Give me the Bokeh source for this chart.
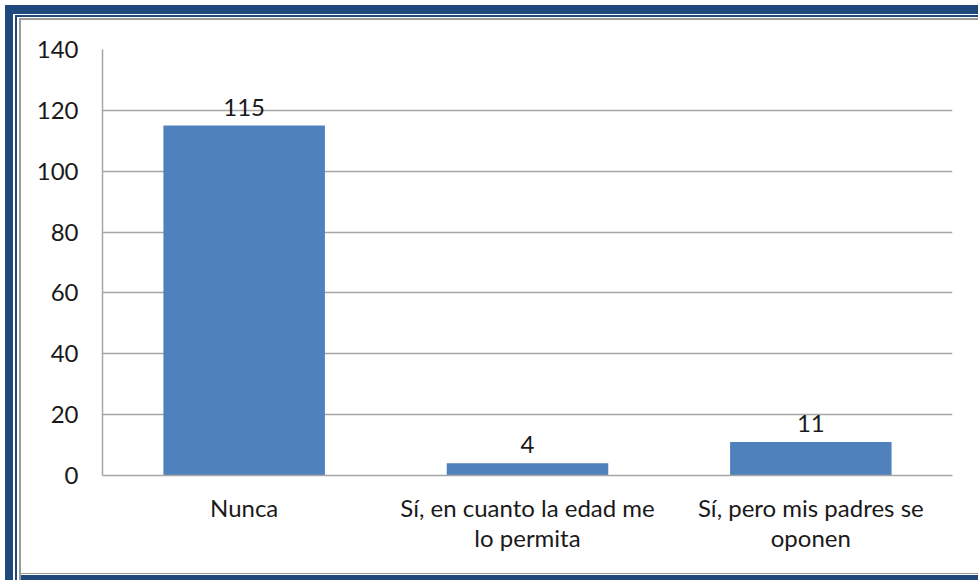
from bokeh.plotting import figure
from bokeh.models import ColumnDataSource, LabelSet, FixedTicker
from bokeh.core.properties import value
from bokeh.embed import file_html
from bokeh.resources import INLINE

categories = ["Nunca", "Sí, en cuanto la edad me\nlo permita", "Sí, pero mis padres se\noponen"]
values = [115, 4, 11]
y_ticks = [0, 20, 40, 60, 80, 100, 120, 140]

src = ColumnDataSource(dict(cat=categories, val=values, lbl=[str(v) for v in values]))

p = figure(x_range=categories, y_range=(0, 140), width=973, height=575,
           output_backend="svg", toolbar_location=None,
           min_border_left=97, min_border_top=44, min_border_right=26, min_border_bottom=105)
p.styles = {
    "margin-left": "5px",
    "margin-top": "5px",
    "box-shadow": ("inset 8px 9px 0 0 #1F497D, inset 10px 10px 0 0 white, "
                   "inset 12px 12px 0 0 #1F497D, inset 14px 13px 0 0 white, "
                   "inset 16px 15px 0 0 #9a9a9a, inset 0 -5px 0 0 #1F497D, "
                   "inset 0 -6px 0 0 white, inset 0 -7px 0 0 #9a9a9a"),
    "background": "white",
}
p.border_fill_alpha = 0
p.background_fill_alpha = 0
p.outline_line_color = None

p.vbar(x="cat", top="val", width=0.57, source=src, fill_color="#4F81BD", line_color=None)

labels = LabelSet(x="cat", y="val", text="lbl", source=src, y_offset=10,
                  text_align="center", text_baseline="bottom",
                  text_font=value("Lato"), text_font_size="24px", text_color="#1a1a1a")
p.add_layout(labels)

p.yaxis.ticker = FixedTicker(ticks=y_ticks)
p.yaxis.major_tick_line_color = None
p.yaxis.minor_tick_line_color = None
p.yaxis.axis_line_color = "#a6a6a6"
p.yaxis.axis_line_width = 1.5
p.yaxis.major_label_standoff = 18
p.yaxis.major_label_text_font = "Lato"
p.yaxis.major_label_text_font_size = "24px"
p.yaxis.major_label_text_color = "#1a1a1a"

p.xaxis.major_tick_line_color = None
p.xaxis.axis_line_color = "#a6a6a6"
p.xaxis.axis_line_width = 1.5
p.xaxis.major_label_standoff = 11
p.xaxis.major_label_text_font = "Lato"
p.xaxis.major_label_text_font_size = "24px"
p.xaxis.major_label_text_color = "#1a1a1a"
p.xaxis.major_label_text_line_height = 1.06

p.xgrid.grid_line_color = None
p.ygrid.grid_line_color = "#a6a6a6"
p.ygrid.grid_line_width = 1.5

open("out.html", "w").write(file_html(p, INLINE))
